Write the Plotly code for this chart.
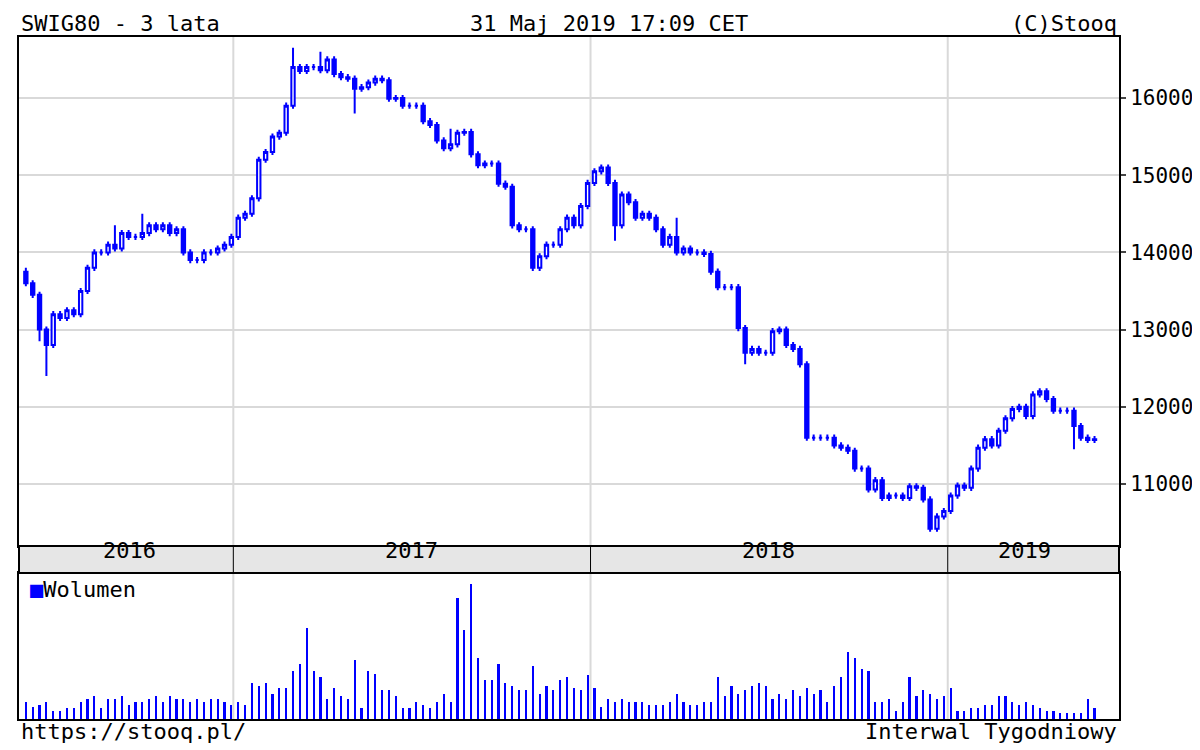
import plotly.graph_objects as go
import pandas as pd

closes = [13600,13450,13000,12800,13200,13150,13250,13200,13500,13800,14000,14000,14100,14050,14250,14200,14200,14250,14350,14300,
          14350,14250,14300,14000,13900,13900,14000,14000,14050,14100,14200,14450,14500,14700,15200,15300,15500,15550,15900,16400,
          16350,16400,16400,16360,16500,16310,16270,16250,16120,16140,16200,16250,16230,15990,16000,15900,15900,15900,15700,15650,
          15450,15350,15400,15550,15560,15270,15130,15150,15150,14890,14850,14350,14300,14300,13800,13950,14100,14100,14300,14450,
          14350,14600,14900,15050,15100,14900,14350,14750,14650,14450,14500,14450,14300,14100,14200,14000,14050,14000,14000,13980,
          13750,13550,13550,13550,13020,12700,12750,12700,12700,12980,13000,12800,12750,12550,11600,11600,11600,11600,11500,
          11470,11430,11200,11200,10930,11050,10820,10850,10850,10820,10970,10950,10800,10420,10580,10650,10850,10980,10950,11200,
          11470,11580,11500,11690,11850,11970,12000,11880,12160,12200,12100,11950,11950,11950,11750,11600,11570,11580]
first_open = 13750
extra_high = {0: 13800, 13: 14350, 17: 14500, 39: 16650, 43: 16600, 62: 15600, 86: 14850, 95: 14450}
extra_low = {3: 12400, 2: 12850, 48: 15800, 86: 14150, 105: 12550, 127: 10900, 133: 10400, 153: 11450}
volumes = [14,10,12,14,7,7,9,9,14,17,19,9,17,17,19,12,14,14,17,19,14,19,17,17,14,17,14,17,17,14,12,14,
           12,30,28,30,21,26,26,40,46,76,40,35,17,26,19,17,49,9,40,38,24,24,19,9,9,14,12,9,14,21,14,
           101,74,113,51,33,33,46,30,28,24,24,44,21,28,24,33,35,26,24,
           37,26,10,17,14,17,14,14,14,12,12,12,14,21,14,12,12,14,14,35,19,28,21,24,28,30,28,17,21,17,24,19,26,21,
           24,14,28,35,56,51,42,40,14,14,17,7,14,35,19,24,21,17,19,26,7,7,9,9,12,12,19,19,14,12,14,12,9,7,7,5,5,5,5,17,9,7,7]
price_ticks = [11000, 12000, 13000, 14000, 15000, 16000]

n = len(closes)
dates = pd.date_range("2016-06-03", periods=n, freq="7D")
opens = [first_open] + closes[:-1]
highs = [max(o, c) + 40 for o, c in zip(opens, closes)]
lows = [min(o, c) - 40 for o, c in zip(opens, closes)]
for k, v in extra_high.items():
    highs[k] = max(highs[k], v)
for k, v in extra_low.items():
    lows[k] = min(lows[k], v)
volumes = volumes[:n] + [7] * max(0, n - len(volumes))

BLUE = "#0000ff"
FONT = "DejaVu Sans Mono"
fig = go.Figure()
fig.add_trace(go.Candlestick(x=dates, open=opens, high=highs, low=lows, close=closes,
    increasing=dict(line=dict(color=BLUE, width=2), fillcolor="white"),
    decreasing=dict(line=dict(color=BLUE, width=2), fillcolor=BLUE),
    whiskerwidth=0, xaxis="x", yaxis="y", showlegend=False))
fig.add_trace(go.Bar(x=dates, y=volumes, marker=dict(color=BLUE, line=dict(width=0)),
    width=2.2 * 86400000, xaxis="x2", yaxis="y2", showlegend=False))

xr = ["2016-05-27", "2019-06-25"]
yearlines = ["2017-01-01", "2018-01-01", "2019-01-01"]
common_x = dict(range=xr, showgrid=False, showticklabels=False, zeroline=False, automargin=False,
                showline=True, linecolor="black", linewidth=2, mirror=True, rangeslider=dict(visible=False))
fig.update_layout(
    width=1200, height=750, paper_bgcolor="white", plot_bgcolor="white",
    margin=dict(l=11, r=89, t=29, b=39, autoexpand=False),
    font=dict(family=FONT, size=22, color="black"),
    xaxis=dict(domain=[0, 1], anchor="y", **common_x),
    yaxis=dict(domain=[0.2537, 1], side="right", range=[10197, 16790], tickvals=price_ticks,
               ticktext=[str(v) for v in price_ticks], automargin=False, tickfont=dict(size=21),
               showgrid=True, gridcolor="#d9d9d9", gridwidth=2, ticks="outside", ticklen=5, tickwidth=2,
               showline=True, linecolor="black", linewidth=2, mirror=True, zeroline=False),
    xaxis2=dict(domain=[0, 1], anchor="y2", **common_x),
    yaxis2=dict(domain=[0, 0.2141], range=[0, 122], showgrid=False, showticklabels=False, automargin=False,
                showline=True, linecolor="black", linewidth=2, mirror=True, zeroline=False),
    bargap=0,
)
shapes = []
for d in yearlines:
    for xa, ya in (("x", "y"), ("x2", "y2")):
        shapes.append(dict(type="line", xref=xa, yref=ya + " domain", x0=d, x1=d, y0=0, y1=1,
                           line=dict(color="#d9d9d9", width=2), layer="below"))
shapes.append(dict(type="rect", xref="paper", yref="paper", x0=0, x1=1, y0=0.2141, y1=0.2537,
                   fillcolor="#e6e6e6", line=dict(color="black", width=2)))
for d in yearlines:
    shapes.append(dict(type="line", xref="x", yref="paper", x0=d, x1=d, y0=0.2141, y1=0.2537,
                       line=dict(color="black", width=1)))
fig.update_layout(shapes=shapes)

ann = []
for lbl, d in (("2016", "2016-09-17"), ("2017", "2017-07-02"), ("2018", "2018-07-02"), ("2019", "2019-03-20")):
    ann.append(dict(text=lbl, x=d, xref="x", y=0.2339, yref="paper", yshift=-6, showarrow=False))
ann += [
    dict(text="SWIG80 - 3 lata", x=0, xref="paper", xanchor="left", y=1, yref="paper", yanchor="bottom", yshift=-1, showarrow=False),
    dict(text="31 Maj 2019 17:09 CET", x=0.5361, xref="paper", y=1, yref="paper", yanchor="bottom", yshift=-1, showarrow=False),
    dict(text="(C)Stooq", x=1, xref="paper", xanchor="right", y=1, yref="paper", yanchor="bottom", yshift=-1, showarrow=False),
    dict(text="https://stooq.pl/", x=0, xref="paper", xanchor="left", y=0, yref="paper", yanchor="top", yshift=2, showarrow=False),
    dict(text="Interwal Tygodniowy", x=1, xref="paper", xanchor="right", y=0, yref="paper", yanchor="top", yshift=2, showarrow=False),
    dict(text="<span style='color:#0000ff'>■</span>Wolumen", x=0.008, xref="paper", xanchor="left", y=0.2141, yref="paper",
         yanchor="top", yshift=-2, showarrow=False),
]
fig.update_layout(annotations=ann)
fig.write_html("out.html")
